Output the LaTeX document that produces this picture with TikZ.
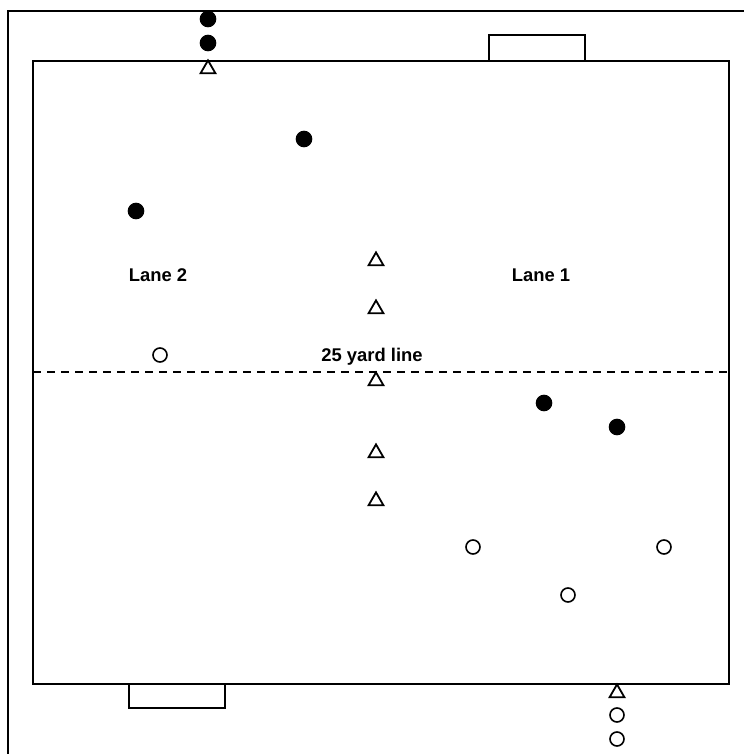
\documentclass[tikz,border=0pt]{standalone}
\usepackage{fontspec}
\setmainfont{Liberation Sans}
\usetikzlibrary{shapes.geometric,positioning}

\tikzset{
    fieldline/.style={line width=1pt},
    attacker/.style={circle,fill=black,draw=black,line width=0.5pt,inner sep=0pt,minimum size=7.8pt},
    defender/.style={circle,fill=white,draw=black,line width=0.8pt,inner sep=0pt,minimum size=7pt},
    cone/.style={regular polygon,regular polygon sides=3,draw=black,line width=0.9pt,inner sep=0pt,minimum size=8.6pt},
    lanelabel/.style={font=\fontsize{9.2}{11}\selectfont\bfseries,inner sep=1pt}
}

\begin{document}
\begin{tikzpicture}[x=0.5pt,y=-0.5pt]  % one unit = one pixel of the sketch
    \useasboundingbox (0,0) rectangle (744,754);
    % Outer border (cut off at right and bottom)
    \draw[fieldline] (8,754) -- (8,11) -- (744,11);
    % Pitch and goals
    \draw[fieldline] (33,61) rectangle (729,684);
    \draw[fieldline] (489,61) -- (489,35) -- (585,35) -- (585,61);
    \draw[fieldline] (129,684) -- (129,708) -- (225,708) -- (225,684);
    % 25 yard line
    \coordinate (yardL) at (33,372);
    \coordinate (yardR) at (729,372);
    \draw[line width=0.6pt,dash pattern=on 4pt off 3pt] (yardL) -- (yardR);
    \node[lanelabel] (yardtext) at (372,357) {25 yard line};
    \node[lanelabel] (lane2) at (158,275) {Lane 2};
    \node[lanelabel] (lane1) at (541,275) {Lane 1};
    % Cones down the middle
    \foreach \y [count=\i] in {261,309,381,453,501} {
        \node[cone] (c\i) at (376,\y) {};
    }
    \node[cone] (ctop) at (208,69) {};
    \node[cone] (cbot) at (617,693) {};
    % Attackers (filled)
    \node[attacker] (a1) at (208,19) {};
    \node[attacker] (a2) at (208,43) {};
    \node[attacker] (a3) at (304,139) {};
    \node[attacker] (a4) at (136,211) {};
    \node[attacker] (a5) at (544,403) {};
    \node[attacker] (a6) at (617,427) {};
    % Defenders (open)
    \node[defender] (d1) at (160,355) {};
    \node[defender] (d2) at (473,547) {};
    \node[defender] (d3) at (664,547) {};
    \node[defender] (d4) at (568,595) {};
    \node[defender] (d5) at (617,715) {};
    \node[defender] (d6) at (617,739) {};
\end{tikzpicture}
\end{document}
